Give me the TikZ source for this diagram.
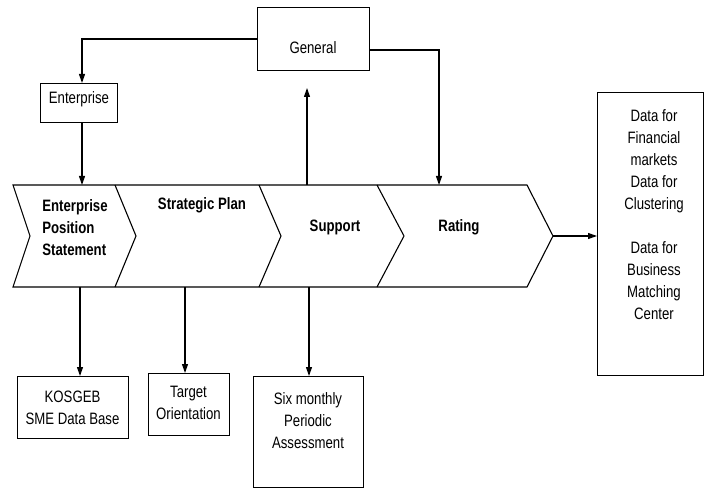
\documentclass[tikz,border=0pt]{standalone}
\usepackage{fontspec}
\setmainfont[FakeStretch=0.8]{Liberation Sans}
\usetikzlibrary{arrows.meta,calc}
\newcommand{\dfont}{\fontsize{16.5}{22}\selectfont}
\begin{document}
\begin{tikzpicture}[x=1pt,y=-1pt,
  box/.style={draw, line width=1.1pt, inner sep=0pt},
  lbl/.style={font=\dfont, align=center, inner sep=0pt},
  clbl/.style={font=\dfont\bfseries, align=center, inner sep=0pt},
  arr/.style={line width=1.1pt, -{Triangle[length=9pt,width=6pt]}},
  ln/.style={line width=1.1pt, line join=miter}]
\useasboundingbox (0,0) rectangle (704,489);

% boxes
\node[box, minimum width=112pt, minimum height=63pt, anchor=north west] (gen) at (257,7) {};
\node[lbl] (gent) at (313,48) {General};
\node[box, minimum width=77pt, minimum height=39pt, anchor=north west] (ent) at (40,83) {};
\node[lbl] (entt) at (79,99) {Enterprise};
\node[box, minimum width=111pt, minimum height=62pt, anchor=north west] (kos) at (17,376) {};
\node[lbl] (kost) at (72.5,408) {KOSGEB\\SME Data Base};
\node[box, minimum width=81pt, minimum height=62pt, anchor=north west] (tar) at (148,373) {};
\node[lbl] (tart) at (188.5,403) {Target\\Orientation};
\node[box, minimum width=110pt, minimum height=111pt, anchor=north west] (six) at (253,376) {};
\node[lbl] (sixt) at (308,421) {Six monthly\\Periodic\\Assessment};
\node[box, minimum width=106pt, minimum height=283pt, anchor=north west] (data) at (597,92) {};
\node[lbl] (datat) at (654,215) {Data for\\Financial\\markets\\Data for\\Clustering\\[22pt]Data for\\Business\\Matching\\Center};

% chevrons
\coordinate (p0t) at (13,185); \coordinate (p0m) at (30,236); \coordinate (p0b) at (13,287);
\coordinate (p1t) at (115,185); \coordinate (p1m) at (136,236); \coordinate (p1b) at (115,287);
\coordinate (p2t) at (259,185); \coordinate (p2m) at (281,236); \coordinate (p2b) at (259,287);
\coordinate (p3t) at (377,185); \coordinate (p3m) at (404,236); \coordinate (p3b) at (377,287);
\coordinate (p4t) at (527,185); \coordinate (p4m) at (553,236); \coordinate (p4b) at (527,287);
\draw[ln] (p0t) -- (p4t) -- (p4m) -- (p4b) -- (p0b) -- (p0m) -- cycle;
\draw[ln] (p1t) -- (p1m) -- (p1b);
\draw[ln] (p2t) -- (p2m) -- (p2b);
\draw[ln] (p3t) -- (p3m) -- (p3b);

\node[clbl, align=left] (c1t) at (75,228) {Enterprise\\Position\\Statement};
\node[clbl] (c2t) at (202,205) {Strategic Plan};
\node[clbl] (c3t) at (335,227) {Support};
\node[clbl] (c4t) at (459,227) {Rating};

% connector points
\coordinate (c1in) at (82,185);
\coordinate (c4in) at (439,185);
\coordinate (c3out) at (307,185);
\coordinate (upend) at (307,88);
\coordinate (genR) at (369,50);
\coordinate (c1out) at (80,287);
\coordinate (c2out) at (185,287);
\coordinate (c3dn) at (309,287);

% connectors
\draw[arr] (gen.west) -| (ent.north -| c1in);
\draw[arr] (ent.south -| c1in) -- (c1in);
\draw[arr] (genR) -| (c4in);
\draw[arr] (c3out) -- (upend);
\draw[arr] (c1out) -- (kos.north -| c1out);
\draw[arr] (c2out) -- (tar.north -| c2out);
\draw[arr] (c3dn) -- (six.north -| c3dn);
\draw[arr] (p4m) -- (data.west |- p4m);
\end{tikzpicture}
\end{document}
